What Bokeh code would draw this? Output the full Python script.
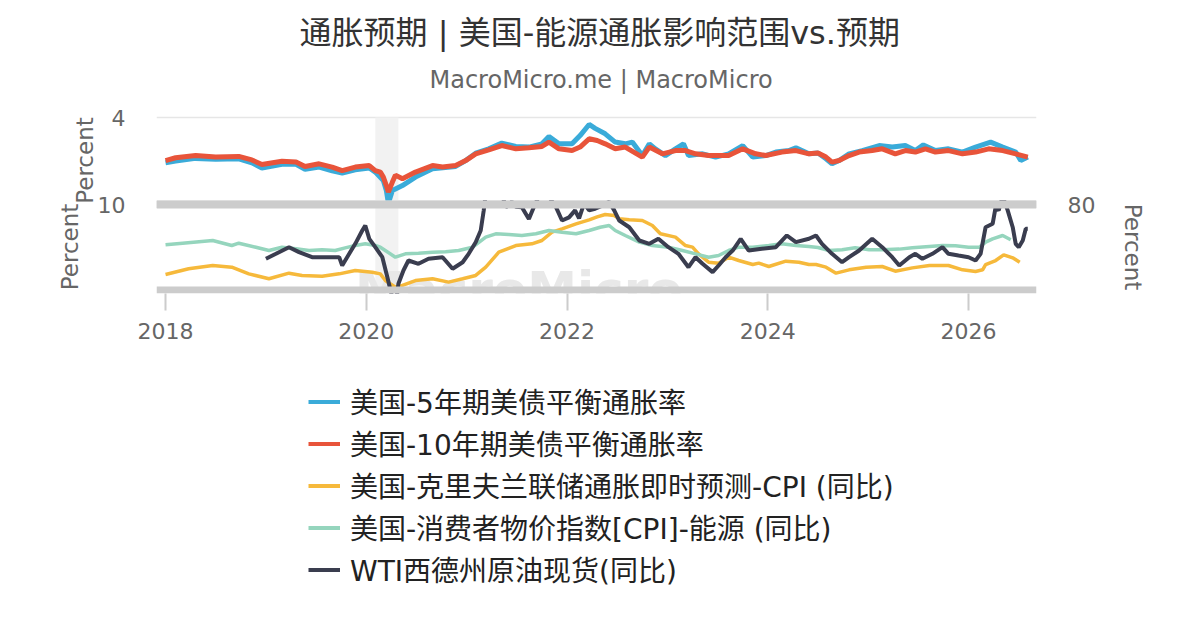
from bokeh.plotting import figure
from bokeh.models import (Range1d, LinearAxis, FixedTicker, Span, BoxAnnotation,
                          Legend, LegendItem, Title, Label)
from bokeh.layouts import column
from bokeh.embed import file_html
from bokeh.resources import INLINE

# ---------------- data (decimal years) ----------------
TICK_YEARS = [2018, 2020, 2022, 2024, 2026]
RECESSION = [2020.09, 2020.32]

be5_x = [2018.00, 2018.10, 2018.30, 2018.50, 2018.73, 2018.86, 2018.96, 2019.16, 2019.30, 2019.39,
         2019.53, 2019.66, 2019.76, 2019.89, 2020.03, 2020.09, 2020.17, 2020.20, 2020.22, 2020.26,
         2020.36, 2020.49, 2020.66, 2020.89, 2020.99, 2021.09, 2021.22, 2021.35, 2021.49, 2021.62,
         2021.75, 2021.82, 2021.92, 2022.05, 2022.13, 2022.22, 2022.28, 2022.38, 2022.48, 2022.58,
         2022.65, 2022.75, 2022.82, 2022.88, 2022.98, 2023.08, 2023.16, 2023.21, 2023.35, 2023.48,
         2023.61, 2023.75, 2023.85, 2023.98, 2024.08, 2024.21, 2024.28, 2024.41, 2024.50, 2024.58,
         2024.64, 2024.71, 2024.81, 2024.94, 2025.11, 2025.24, 2025.37, 2025.47, 2025.55, 2025.67,
         2025.80, 2025.94, 2026.07, 2026.22, 2026.34, 2026.47, 2026.52, 2026.59]
be5_y = [1.92, 2.00, 2.12, 2.08, 2.10, 1.92, 1.68, 1.85, 1.85, 1.62,
         1.72, 1.55, 1.45, 1.60, 1.68, 1.49, 1.10, 0.64, 0.06, 0.64,
         0.87, 1.26, 1.64, 1.75, 2.02, 2.36, 2.56, 2.82, 2.67, 2.64,
         2.79, 3.13, 2.79, 2.79, 3.17, 3.68, 3.50, 3.25, 2.87, 2.79,
         2.87, 2.25, 2.79, 2.56, 2.25, 2.56, 2.79, 2.25, 2.33, 2.18,
         2.33, 2.71, 2.18, 2.25, 2.41, 2.48, 2.61, 2.33, 2.37, 2.10,
         1.87, 2.02, 2.33, 2.48, 2.71, 2.64, 2.71, 2.48, 2.74, 2.48,
         2.56, 2.41, 2.64, 2.87, 2.64, 2.41, 2.02, 2.18]

be10_x = [2018.00, 2018.10, 2018.30, 2018.50, 2018.73, 2018.86, 2018.96, 2019.16, 2019.30, 2019.39,
          2019.53, 2019.66, 2019.76, 2019.89, 2020.03, 2020.09, 2020.14, 2020.17, 2020.20, 2020.22,
          2020.26, 2020.29, 2020.36, 2020.49, 2020.66, 2020.76, 2020.89, 2020.99, 2021.09, 2021.22,
          2021.35, 2021.49, 2021.62, 2021.75, 2021.82, 2021.92, 2022.05, 2022.13, 2022.22, 2022.30,
          2022.38, 2022.48, 2022.58, 2022.75, 2022.82, 2022.95, 2023.08, 2023.18, 2023.28, 2023.41,
          2023.61, 2023.75, 2023.88, 2023.98, 2024.14, 2024.28, 2024.41, 2024.50, 2024.58, 2024.64,
          2024.71, 2024.81, 2024.91, 2025.04, 2025.14, 2025.27, 2025.37, 2025.47, 2025.57, 2025.67,
          2025.80, 2025.94, 2026.07, 2026.20, 2026.34, 2026.47, 2026.59]
be10_y = [2.02, 2.15, 2.25, 2.18, 2.21, 2.05, 1.84, 1.99, 1.95, 1.75,
          1.87, 1.72, 1.56, 1.72, 1.79, 1.56, 1.49, 1.26, 0.87, 0.57,
          1.03, 1.35, 1.18, 1.49, 1.79, 1.72, 1.79, 2.02, 2.33, 2.51,
          2.71, 2.56, 2.61, 2.67, 2.87, 2.56, 2.48, 2.64, 3.02, 2.94,
          2.79, 2.56, 2.64, 2.18, 2.64, 2.33, 2.48, 2.48, 2.33, 2.25,
          2.25, 2.56, 2.33, 2.25, 2.41, 2.48, 2.33, 2.37, 2.18, 1.95,
          2.02, 2.25, 2.41, 2.48, 2.56, 2.33, 2.48, 2.41, 2.56, 2.41,
          2.48, 2.33, 2.41, 2.56, 2.48, 2.33, 2.18]

cpi_x = [2018.00, 2018.23, 2018.47, 2018.66, 2018.83, 2019.03, 2019.23, 2019.36, 2019.56, 2019.73,
         2019.89, 2020.06, 2020.14, 2020.19, 2020.29, 2020.36, 2020.49, 2020.66, 2020.82, 2020.96,
         2021.09, 2021.19, 2021.32, 2021.49, 2021.65, 2021.75, 2021.85, 2021.95, 2022.09, 2022.22,
         2022.30, 2022.38, 2022.47, 2022.52, 2022.62, 2022.75, 2022.85, 2022.93, 2023.08, 2023.18,
         2023.25, 2023.31, 2023.41, 2023.51, 2023.61, 2023.71, 2023.85, 2023.91, 2024.01, 2024.18,
         2024.31, 2024.41, 2024.48, 2024.58, 2024.68, 2024.81, 2024.98, 2025.14, 2025.27, 2025.44,
         2025.61, 2025.80, 2025.94, 2026.07, 2026.14, 2026.17, 2026.27, 2026.35, 2026.44, 2026.51]
cpi_y = [1.81, 2.48, 2.87, 2.67, 1.89, 1.31, 1.97, 1.70, 1.62, 1.89,
         2.28, 2.08, 1.89, 1.11, 0.33, 0.53, 1.11, 1.31, 0.92, 1.31,
         1.70, 2.67, 4.42, 5.20, 5.40, 5.79, 6.76, 7.16, 7.74, 8.21,
         8.55, 8.83, 8.71, 8.33, 8.21, 8.13, 7.54, 6.57, 6.18, 5.20,
         5.01, 4.23, 3.25, 3.14, 3.84, 3.45, 2.98, 3.14, 2.75, 3.37,
         3.25, 2.98, 2.98, 2.67, 1.97, 2.36, 2.67, 2.75, 2.20, 2.59,
         2.87, 2.87, 2.36, 2.16, 2.36, 2.98, 3.45, 4.11, 3.76, 3.25]

energy_x = [2018.00, 2018.17, 2018.47, 2018.66, 2018.73, 2018.90, 2019.03, 2019.16, 2019.30, 2019.43,
            2019.56, 2019.69, 2019.79, 2019.89, 2019.99, 2020.09, 2020.14, 2020.29, 2020.39, 2020.52,
            2020.66, 2020.79, 2020.92, 2021.06, 2021.19, 2021.29, 2021.42, 2021.55, 2021.69, 2021.82,
            2021.95, 2022.09, 2022.22, 2022.33, 2022.42, 2022.48, 2022.58, 2022.72, 2022.85, 2023.01,
            2023.15, 2023.28, 2023.41, 2023.51, 2023.61, 2023.71, 2023.85, 2024.01, 2024.14, 2024.28,
            2024.41, 2024.50, 2024.61, 2024.74, 2024.87, 2025.01, 2025.14, 2025.31, 2025.44, 2025.61,
            2025.74, 2025.87, 2026.00, 2026.11, 2026.17, 2026.24, 2026.34, 2026.42]
energy_y = [4.6, 7.6, 12.6, 3.3, 7.6, 0.1, -6.1, 0.1, -2.9, -6.1,
            -4.8, -6.1, -1.1, 3.3, 6.4, 3.3, 0.1, -18.6, -12.3, -11.1,
            -9.2, -8.6, -6.1, 0.1, 18.9, 25.2, 23.9, 22.0, 25.2, 31.3,
            28.1, 25.2, 31.3, 37.5, 40.7, 31.3, 22.0, 9.5, 3.3, 0.1,
            -6.1, -12.3, -18.6, -15.5, -6.1, 0.1, 0.1, 3.3, 6.4, 3.3,
            1.2, -0.5, -6.1, -4.8, -1.1, -4.8, -4.8, -3.5, -1.1, 1.4,
            3.3, 2.6, 0.1, 0.1, 9.5, 15.8, 22.0, 14.0]

wti_x = [2019.00, 2019.10, 2019.23, 2019.33, 2019.46, 2019.59, 2019.73, 2019.76, 2019.83, 2019.89,
         2019.96, 2019.99, 2020.03, 2020.09, 2020.16, 2020.21, 2020.26, 2020.29, 2020.32, 2020.37,
         2020.42, 2020.52, 2020.62, 2020.76, 2020.86, 2020.96, 2021.02, 2021.09, 2021.14, 2021.17,
         2021.19, 2021.25, 2021.32, 2021.39, 2021.45, 2021.49, 2021.55, 2021.62, 2021.68, 2021.72,
         2021.80, 2021.89, 2021.95, 2022.02, 2022.08, 2022.12, 2022.17, 2022.22, 2022.28, 2022.35,
         2022.42, 2022.47, 2022.52, 2022.62, 2022.72, 2022.82, 2022.91, 2023.01, 2023.11, 2023.21,
         2023.28, 2023.35, 2023.45, 2023.51, 2023.58, 2023.65, 2023.73, 2023.81, 2023.94, 2024.08,
         2024.19, 2024.28, 2024.41, 2024.48, 2024.54, 2024.64, 2024.74, 2024.81, 2024.91, 2025.04,
         2025.14, 2025.24, 2025.31, 2025.41, 2025.47, 2025.54, 2025.64, 2025.74, 2025.80, 2025.90,
         2026.00, 2026.07, 2026.12, 2026.17, 2026.24, 2026.27, 2026.30, 2026.34, 2026.39, 2026.44,
         2026.47, 2026.50, 2026.54, 2026.57, 2026.59]
wti_y = [-21.6, -12.3, 0.1, -9.2, -18.6, -18.6, -18.6, -34.1, -12.3, 6.4,
         31.3, 40.7, 15.8, 0.1, -18.6, -56.0, -95.0, -110.0, -68.4, -43.5,
         -24.8, -31.0, -21.6, -18.6, -40.3, -28.0, -12.3, 9.5, 31.3, 68.8,
         100.0, 200.0, 120.0, 75.0, 85.0, 76.0, 75.0, 53.0, 80.0, 95.0,
         100.0, 75.0, 50.0, 56.0, 69.0, 54.0, 82.0, 69.0, 72.0, 78.0,
         85.0, 69.0, 50.0, 37.5, 12.6, 6.4, 15.8, 0.1, -12.3, -37.3,
         -18.6, -31.0, -46.6, -34.1, -18.6, -6.1, 15.8, -6.1, -2.9, 0.1,
         22.0, 9.5, 15.8, 22.0, 6.4, -12.3, -28.0, -18.6, -6.1, 15.8,
         0.1, -18.6, -34.1, -18.6, -12.3, -21.6, -12.3, 0.1, -12.3, -15.5,
         -18.6, -24.8, -12.3, 37.5, 43.9, 75.0, 68.8, 95.0, 69.0, 37.5,
         6.4, 0.1, 12.6, 34.5, 34.5]

LABELS = ["美国-5年期美债平衡通胀率", "美国-10年期美债平衡通胀率",
          "美国-克里夫兰联储通胀即时预测-CPI (同比)", "美国-消费者物价指数[CPI]-能源 (同比)",
          "WTI西德州原油现货(同比)"]
COLORS = ["#3aabd9", "#e8543a", "#f6b93b", "#95d5bd", "#3a3d4f"]
WIDTHS = [5.0, 5.0, 3.5, 3.5, 4.0]

TITLE = "通胀预期 | 美国-能源通胀影响范围vs.预期"
SUBTITLE = "MacroMicro.me | MacroMicro"

FONT = "DejaVu Sans, Noto Sans CJK SC"
GRAY = "#666666"
BAND = "#cccccc"

X_RANGE = (2017.910, 2026.677)
W = 1200


def style_y_axis(ax, tick, label_standoff):
    ax.ticker = FixedTicker(ticks=[tick])
    ax.axis_line_color = None
    ax.major_tick_line_color = None
    ax.minor_tick_line_color = None
    ax.major_tick_out = 0
    ax.major_tick_in = 0
    ax.major_label_standoff = 31
    ax.major_label_text_font = FONT
    ax.major_label_text_font_size = "22px"
    ax.major_label_text_color = GRAY
    ax.axis_label = "Percent"
    ax.axis_label_text_font = FONT
    ax.axis_label_text_font_size = "23px"
    ax.axis_label_text_font_style = "normal"
    ax.axis_label_text_color = GRAY
    ax.axis_label_standoff = label_standoff


# ---------------- top panel: breakevens ----------------
top = figure(frame_width=880, frame_height=96, output_backend="svg", toolbar_location=None, tools="",
             x_range=Range1d(*X_RANGE), y_range=Range1d(-0.184, 4.23),
             x_axis_location=None, y_axis_location="left", title=None,
             min_border_left=156, min_border_right=W - 156 - 880, min_border_top=112,
             min_border_bottom=0)
top.outline_line_color = None
top.xgrid.visible = False
top.ygrid.ticker = FixedTicker(ticks=[4])
top.ygrid.grid_line_color = "#e6e6e6"
top.ygrid.grid_line_width = 1.5
style_y_axis(top.yaxis[0], 4, 11)

top.add_layout(Title(text=SUBTITLE, align="left", offset=273, standoff=38,
                     text_font=FONT, text_font_size="24px", text_font_style="normal",
                     text_color=GRAY), "above")
top.add_layout(Title(text=TITLE, align="left", offset=143, standoff=-14,
                     text_font=FONT, text_font_size="32px", text_font_style="normal",
                     text_color="#333333"), "above")

top.add_layout(BoxAnnotation(left=RECESSION[0], right=RECESSION[1], top=4,
                             fill_color="#f2f2f2", fill_alpha=1.0, line_color=None,
                             level="underlay"))
top.line(be5_x, be5_y, line_color=COLORS[0], line_width=WIDTHS[0])
top.line(be10_x, be10_y, line_color=COLORS[1], line_width=WIDTHS[1])
top.add_layout(Span(location=0, dimension="width", line_color=BAND, line_width=8, level="overlay"))

# ---------------- bottom panel: CPI / energy / WTI ----------------
bot = figure(frame_width=880, frame_height=93, output_backend="svg", toolbar_location=None, tools="",
             x_range=top.x_range, y_range=Range1d(-0.409, 10.468),
             y_axis_location="left", title=None,
             min_border_left=156, min_border_right=W - 156 - 880, min_border_top=12,
             min_border_bottom=60,
             background_fill_color=None, border_fill_color=None)
bot.margin = (-20, 0, 0, 0)
bot.outline_line_color = None
bot.xgrid.visible = False
bot.ygrid.visible = False
bot.extra_y_ranges = {"wti": Range1d(-86.55, 87.49)}
style_y_axis(bot.yaxis[0], 10, 12)
right_ax = LinearAxis(y_range_name="wti")
style_y_axis(right_ax, 80, 22)
bot.add_layout(right_ax, "right")

xa = bot.xaxis[0]
xa.ticker = FixedTicker(ticks=TICK_YEARS)
xa.axis_line_color = None
xa.major_tick_line_color = BAND
xa.major_tick_line_width = 2
xa.major_tick_out = 17
xa.major_tick_in = 0
xa.minor_tick_line_color = None
xa.major_label_standoff = 12
xa.major_label_text_font = FONT
xa.major_label_text_font_size = "22px"
xa.major_label_text_color = GRAY

bot.add_layout(BoxAnnotation(left=RECESSION[0], right=RECESSION[1],
                             fill_color="#f2f2f2", fill_alpha=1.0, line_color=None,
                             level="underlay"))
bot.add_layout(Label(x=2021.52, y=0, text="MacroMicro", text_align="center",
                     text_baseline="middle", text_font=FONT, text_font_size="50px",
                     text_font_style="bold", text_color="#e8e8e8", level="underlay"))

bot.line(cpi_x, cpi_y, line_color=COLORS[2], line_width=WIDTHS[2])
bot.line(energy_x, energy_y, line_color=COLORS[3], line_width=WIDTHS[3], y_range_name="wti")
bot.line(wti_x, wti_y, line_color=COLORS[4], line_width=WIDTHS[4], y_range_name="wti")

bot.add_layout(Span(location=10, dimension="width", line_color=BAND, line_width=8, level="overlay"))
bot.add_layout(Span(location=0, dimension="width", line_color=BAND, line_width=7, level="overlay"))

# ---------------- legend (own strip under the chart) ----------------
# the same series are given to this strip; its ranges lie outside the data,
# so only their legend swatches are shown
leg = figure(width=W, height=268, output_backend="svg", toolbar_location=None, tools="",
             x_range=Range1d(0, 1), y_range=Range1d(0, 1), title=None,
             x_axis_location=None, y_axis_location=None, min_border=0)
leg.outline_line_color = None
leg.xgrid.visible = False
leg.ygrid.visible = False
series = [(be5_x, be5_y), (be10_x, be10_y), (cpi_x, cpi_y), (energy_x, energy_y), (wti_x, wti_y)]
swatches = [leg.line(sx, sy, line_color=c, line_width=4) for (sx, sy), c in zip(series, COLORS)]
legend = Legend(items=[LegendItem(label=t, renderers=[r]) for t, r in zip(LABELS, swatches)],
                location=(152, 32), orientation="vertical",
                label_text_font=FONT, label_text_font_size="28px", label_text_color="#222222",
                glyph_width=32, glyph_height=33, label_height=33, label_standoff=10,
                spacing=2, padding=0, margin=0,
                border_line_color=None, background_fill_color=None)
leg.add_layout(legend, "center")

layout = column(top, bot, leg)
open("out.html", "w").write(file_html(layout, INLINE))
